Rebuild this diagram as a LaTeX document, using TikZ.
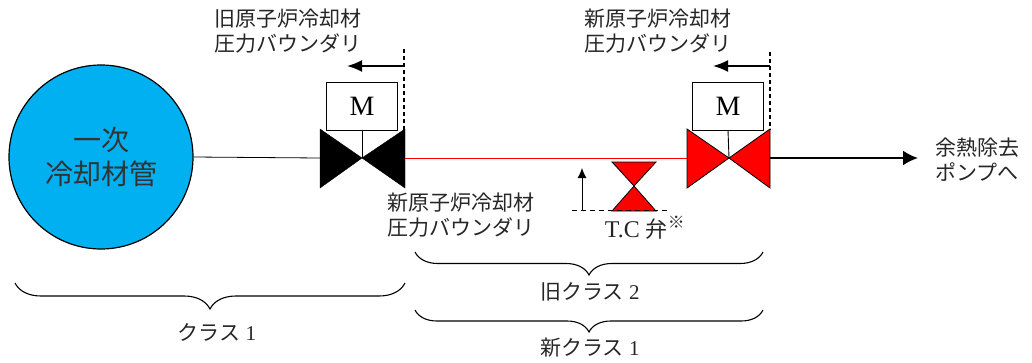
\documentclass[tikz,border=0pt]{standalone}
\usepackage{fontspec}
\setmainfont{Liberation Serif}
\newfontfamily\cjk{Noto Sans CJK JP}
\usetikzlibrary{arrows.meta,decorations.pathreplacing}
\definecolor{pipeblue}{RGB}{0,176,240}
\tikzset{
  lbl/.style={font=\cjk\fontsize{21}{25}\selectfont, align=left, text=black!85, inner sep=0},
  cls/.style={font=\fontsize{21}{25}\selectfont, text=black!85, inner sep=0},
  mbox/.style={draw, line width=0.9pt, minimum width=71, minimum height=48, inner sep=0,
    font=\fontsize{28}{30}\selectfont},
  brc/.style={decorate, decoration={brace, mirror, amplitude=#1}, line width=1.1pt},
  bnd/.style={line width=1.8pt, dash pattern=on 4pt off 3pt},
  bndarrow/.style={line width=1.8pt, -{Latex[length=15pt,width=12pt]}},
}
\begin{document}
\begin{tikzpicture}[x=1pt,y=-1pt]
      \useasboundingbox (0,0) rectangle (1032,362);

      % primary coolant pipe
      \node[circle, draw, line width=1.2pt, fill=pipeblue, minimum size=184, inner sep=0,
        font=\cjk\fontsize{28}{34}\selectfont, align=center, text=black!80] (pipe) at (101,157)
        {一次\\冷却材管};

      % old boundary valve (black)
      \coordinate (vA)  at (362,158);
      \coordinate (vAl) at (320,158);
      \coordinate (vAr) at (405,158);
      \filldraw (vA) -- (320,129) -- (320,188) -- cycle;
      \filldraw (vA) -- (405,129) -- (405,188) -- cycle;
      \node[mbox] (mA) at (362,106) {M};
      \draw[line width=0.9pt] (mA.south) -- (vA);

      % new boundary valve (red)
      \coordinate (vB)  at (729,158);
      \coordinate (vBl) at (687,158);
      \coordinate (vBr) at (770,158);
      \filldraw[fill=red, line width=0.8pt] (vB) -- (687,129) -- (687,188) -- cycle;
      \filldraw[fill=red, line width=0.8pt] (vB) -- (770,129) -- (770,188) -- cycle;
      \node[mbox] (mB) at (728,106) {M};
      \draw[line width=0.9pt] (mB.south) -- (vB);

      % piping
      \draw[line width=0.8pt] (pipe.east) -- (vAl);
      \draw[red, line width=0.8pt] (vAr) -- (vBl);
      \coordinate (pump) at (918,158);
      \draw[line width=2pt, -{Latex[length=15pt,width=15pt]}] (vBr) -- (pump);
      \node[lbl] (pumptxt) at (977,160) {余熱除去\\ポンプへ};

      % boundary marks
      \coordinate (bAt) at (404,49);
      \coordinate (bAb) at (404,130);
      \coordinate (bAa) at (404,66);
      \coordinate (bAe) at (347,66);
      \draw[bnd] (bAt) -- (bAb);
      \draw[bndarrow] (bAa) -- (bAe);
      \coordinate (bBt) at (770,52);
      \coordinate (bBb) at (770,130);
      \coordinate (bBa) at (770,66);
      \coordinate (bBe) at (713,66);
      \draw[bnd] (bBt) -- (bBb);
      \draw[bndarrow] (bBa) -- (bBe);

      \node[lbl] (oldbnd) at (288,31) {旧原子炉冷却材\\圧力バウンダリ};
      \node[lbl] (newbndB) at (658,31) {新原子炉冷却材\\圧力バウンダリ};
      \node[lbl] (newbndA) at (461,215) {新原子炉冷却材\\圧力バウンダリ};

      % T.C valve
      \coordinate (tc) at (634,186);
      \filldraw[fill=red, line width=0.8pt] (tc) -- (612,162) -- (656,162) -- cycle;
      \filldraw[fill=red, line width=0.8pt] (tc) -- (612,211) -- (656,211) -- cycle;
      \coordinate (tcl) at (572,210);
      \coordinate (tcr) at (670,210);
      \draw[line width=0.8pt, dash pattern=on 5pt off 4pt] (tcl) -- (tcr);
      \coordinate (tcb) at (582,210);
      \coordinate (tct) at (582,168);
      \draw[line width=0.9pt, -{Latex[length=10pt,width=9pt]}] (tcb) -- (tct);
      \node[cls, font=\fontsize{24}{26}\selectfont] (tctxt) at (645,228)
        {T.C {\cjk\fontsize{22}{24}\selectfont 弁}\textsuperscript{\cjk ※}};

      % class braces
      \draw[brc=26] (15,283) -- (405,283);
      \node[cls] (cls1) at (217,332) {{\cjk クラス} 1};
      \draw[brc=23] (415,252) -- (763,252);
      \node[cls] (oldcls2) at (590,292) {{\cjk 旧クラス} 2};
      \draw[brc=22] (415,310) -- (763,310);
      \node[cls] (newcls1) at (590,348) {{\cjk 新クラス} 1};
\end{tikzpicture}
\end{document}
